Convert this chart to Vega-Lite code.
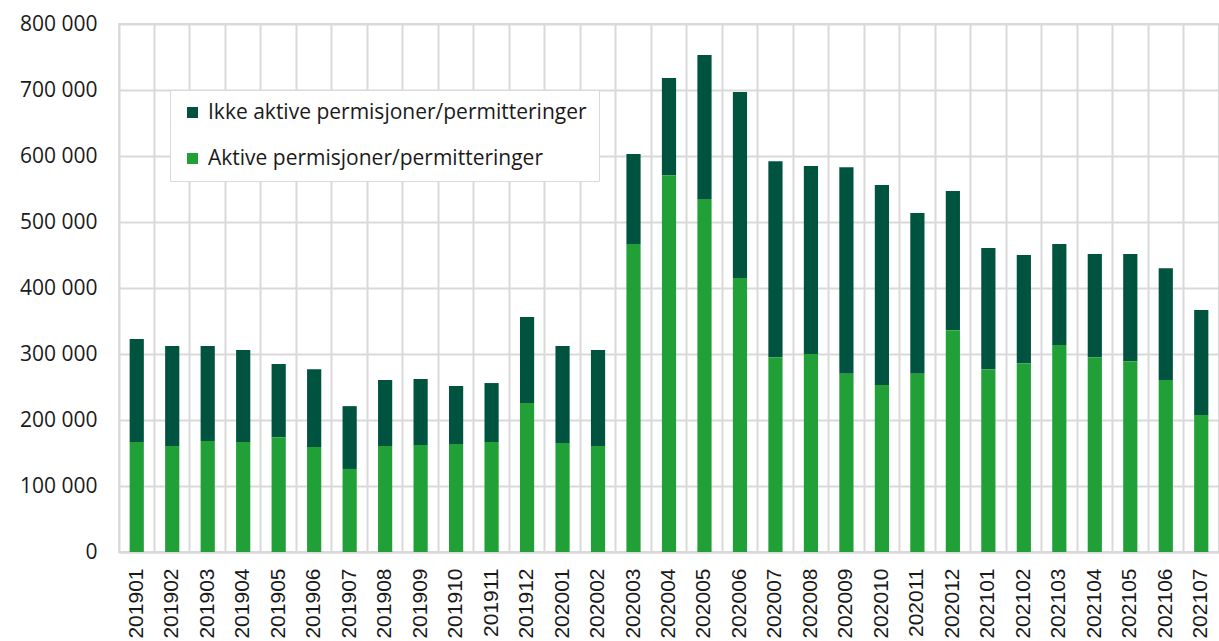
{
  "$schema": "https://vega.github.io/schema/vega-lite/v6.json",
  "width": 1100,
  "height": 528,
  "autosize": "none",
  "padding": {"left": 119, "top": 24, "right": 0, "bottom": 89},
  "background": "white",
  "config": {
    "view": {"stroke": "#D9D9D9", "strokeWidth": 2},
    "font": "Open Sans"
  },
  "data": {
    "values": [
      {"month": "201901", "aktive": 166700, "ikke": 156000},
      {"month": "201902", "aktive": 160600, "ikke": 151400},
      {"month": "201903", "aktive": 168000, "ikke": 144000},
      {"month": "201904", "aktive": 166700, "ikke": 139300},
      {"month": "201905", "aktive": 174000, "ikke": 110800},
      {"month": "201906", "aktive": 159000, "ikke": 118000},
      {"month": "201907", "aktive": 125800, "ikke": 95200},
      {"month": "201908", "aktive": 160600, "ikke": 100000},
      {"month": "201909", "aktive": 162000, "ikke": 100000},
      {"month": "201910", "aktive": 163600, "ikke": 87900},
      {"month": "201911", "aktive": 166700, "ikke": 89300},
      {"month": "201912", "aktive": 225800, "ikke": 130200},
      {"month": "202001", "aktive": 165000, "ikke": 147000},
      {"month": "202002", "aktive": 160600, "ikke": 145400},
      {"month": "202003", "aktive": 466700, "ikke": 136300},
      {"month": "202004", "aktive": 571000, "ikke": 147000},
      {"month": "202005", "aktive": 535000, "ikke": 218000},
      {"month": "202006", "aktive": 415000, "ikke": 282000},
      {"month": "202007", "aktive": 295000, "ikke": 297000},
      {"month": "202008", "aktive": 300000, "ikke": 285000},
      {"month": "202009", "aktive": 270000, "ikke": 313000},
      {"month": "202010", "aktive": 253000, "ikke": 303000},
      {"month": "202011", "aktive": 270000, "ikke": 243600},
      {"month": "202012", "aktive": 336000, "ikke": 211000},
      {"month": "202101", "aktive": 277000, "ikke": 183600},
      {"month": "202102", "aktive": 286000, "ikke": 164000},
      {"month": "202103", "aktive": 313600, "ikke": 153100},
      {"month": "202104", "aktive": 295000, "ikke": 156500},
      {"month": "202105", "aktive": 289000, "ikke": 162500},
      {"month": "202106", "aktive": 260600, "ikke": 169400},
      {"month": "202107", "aktive": 207500, "ikke": 159200}
    ]
  },
  "transform": [
    {"fold": ["ikke", "aktive"], "as": ["serie", "value"]}
  ],
  "mark": {"type": "bar", "width": {"band": 0.4}},
  "encoding": {
    "x": {
      "field": "month",
      "type": "ordinal",
      "scale": {"paddingInner": 0, "paddingOuter": 0},
      "axis": {
        "title": null,
        "labelAngle": -90,
        "labelAlign": "right",
        "labelBaseline": "middle",
        "labelFont": "Liberation Sans",
        "labelFontSize": 21,
        "labelColor": "#1a1a1a",
        "labelPadding": 16,
        "ticks": false,
        "domainColor": "#D9D9D9",
        "domainWidth": 2,
        "grid": true,
        "bandPosition": 0,
        "gridColor": "#D9D9D9",
        "gridWidth": 2
      }
    },
    "y": {
      "field": "value",
      "type": "quantitative",
      "stack": "zero",
      "scale": {"domain": [0, 800000], "nice": false},
      "axis": {
        "title": null,
        "values": [0, 100000, 200000, 300000, 400000, 500000, 600000, 700000, 800000],
        "labelExpr": "replace(format(datum.value, ','), regexp(',', 'g'), ' ')",
        "labelFontSize": 21,
        "labelColor": "#1a1a1a",
        "labelPadding": 22,
        "ticks": false,
        "domain": false,
        "gridColor": "#D9D9D9",
        "gridWidth": 2
      }
    },
    "color": {
      "field": "serie",
      "type": "nominal",
      "scale": {
        "domain": ["ikke", "aktive"],
        "range": ["#00543F", "#21A038"]
      },
      "legend": {
        "title": null,
        "orient": "none",
        "legendX": 51,
        "legendY": 66,
        "direction": "vertical",
        "symbolType": "square",
        "symbolSize": 121,
        "symbolStrokeWidth": 0,
        "symbolOpacity": 1,
        "labelExpr": "datum.value == 'ikke' ? 'Ikke aktive permisjoner/permitteringer' : 'Aktive permisjoner/permitteringer'",
        "labelFontSize": 21,
        "labelColor": "#1a1a1a",
        "labelLimit": 500,
        "labelOffset": 5,
        "rowPadding": 24,
        "padding": 12,
        "strokeColor": "#D9D9D9",
        "fillColor": "white"
      }
    },
    "order": {"field": "serie", "sort": "ascending"}
  }
}
